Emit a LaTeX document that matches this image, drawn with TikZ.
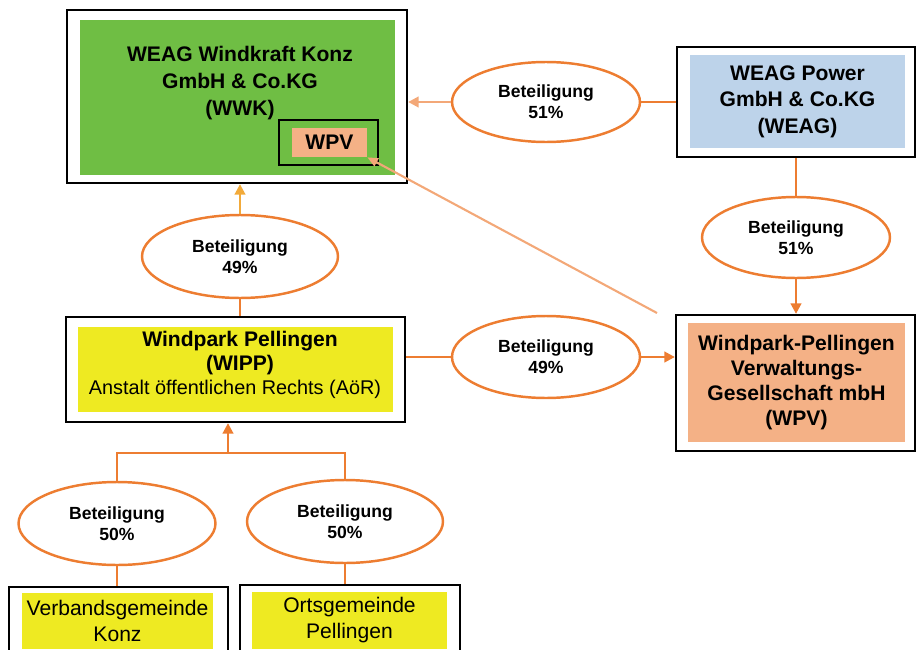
\documentclass[tikz,border=0pt]{standalone}
\usepackage{fontspec}
\setmainfont{Liberation Sans}
\usetikzlibrary{arrows.meta,positioning,calc,shapes.geometric}
\definecolor{borange}{HTML}{ED7D31}
\definecolor{lorange}{HTML}{F3A878}
\definecolor{gold}{HTML}{F2AA3A}
\definecolor{wgreen}{HTML}{6FBE44}
\definecolor{wblue}{HTML}{BDD3EA}
\definecolor{wsalmon}{HTML}{F4B186}
\definecolor{wyellow}{HTML}{EEEA22}

\begin{document}
\begin{tikzpicture}[x=0.02cm,y=-0.02cm,
 frm/.style={draw,line width=1.3pt,fill=white,inner sep=0pt},
 fl/.style={inner sep=0pt,align=center,font=\fontsize{12}{15}\selectfont\bfseries},
 nl/.style={inner sep=0pt,align=center,font=\fontsize{12}{14.5}\selectfont},
 bt/.style={draw=borange,line width=1.4pt,fill=white,ellipse,inner sep=0pt,align=center,
   minimum width=3.76cm,minimum height=1.62cm,font=\fontsize{10}{12}\selectfont\bfseries},
 ln/.style={draw=borange,line width=1.4pt},
 ar/.style={ln,-{Triangle[length=6pt,width=6pt]}}]
\clip (0,0) rectangle (916,649);
% companies
\node[frm,minimum width=6.8cm,minimum height=3.46cm] (wwk) at (237,96.5) {};
\node[fl,fill=wgreen,minimum width=6.3cm,minimum height=3.1cm] (wwkin) at (237.5,97.5) {};
\node[fl,font=\fontsize{12}{15.6}\selectfont\bfseries] (wwktxt) at (240,83) {WEAG Windkraft Konz\\GmbH \& Co.KG\\(WWK)};
\node[draw,line width=0.7pt,minimum width=1.98cm,minimum height=0.9cm,inner sep=0pt] (wpvbox) at (328.5,142.5) {};
\node[fl,fill=wsalmon,minimum width=1.5cm,minimum height=0.58cm] (wpvsmall) at (329.5,142.5) {WPV};
\node[frm,minimum width=4.76cm,minimum height=2.2cm] (weag) at (796,102) {};
\node[fl,fill=wblue,minimum width=4.3cm,minimum height=1.86cm] (weagin) at (797.5,101.5) {WEAG Power\\GmbH \& Co.KG\\(WEAG)};
\node[frm,minimum width=4.78cm,minimum height=2.72cm] (wpv) at (795.5,383) {};
\node[fl,fill=wsalmon,minimum width=4.34cm,minimum height=2.38cm,font=\fontsize{12}{14.4}\selectfont\bfseries] (wpvin) at (796.5,382.5) {Windpark-Pellingen\\Verwaltungs-\\Gesellschaft mbH\\(WPV)};
\node[frm,minimum width=6.78cm,minimum height=2.1cm] (wipp) at (235.5,369.5) {};
\node[fl,fill=wyellow,minimum width=6.3cm,minimum height=1.7cm] (wippin) at (235.5,369.5) {};
\node[fl,font=\fontsize{12}{14}\selectfont\bfseries] (wipptxt) at (240,353) {Windpark Pellingen\\(WIPP)};
\node[nl,font=\fontsize{11.3}{13}\selectfont] (aoer) at (235,389) {Anstalt öffentlichen Rechts (AöR)};
\node[frm,minimum width=4.38cm,minimum height=1.52cm] (vgk) at (118.5,625) {};
\node[nl,fill=wyellow,minimum width=3.82cm,minimum height=1.12cm] (vgkin) at (117.5,621) {Verbandsgemeinde\\Konz};
\node[frm,minimum width=4.4cm,minimum height=1.52cm] (og) at (350,623) {};
\node[nl,fill=wyellow,minimum width=3.9cm,minimum height=1.14cm] (ogin) at (349.5,620) {Ortsgemeinde\\Pellingen};
% shares
\node[bt,minimum height=1.6cm] (e1) at (546,102) {Beteiligung\\51\%};
\node[bt] (e2) at (796,237.5) {Beteiligung\\51\%};
\node[bt,minimum width=3.92cm,minimum height=1.66cm] (e3) at (240,256.5) {Beteiligung\\49\%};
\node[bt,minimum height=1.64cm] (e4) at (546,357) {Beteiligung\\49\%};
\node[bt,minimum width=3.94cm,minimum height=1.66cm] (e5) at (117,523.5) {Beteiligung\\50\%};
\node[bt,minimum width=3.92cm,minimum height=1.66cm] (e6) at (345,521.5) {Beteiligung\\50\%};
\coordinate (join) at (228,453);
\coordinate (dstart) at (657,313);
% links
\draw[ln] (weag.west) -- (e1.east);
\draw[ar,draw=lorange,-{Triangle[length=6pt,width=6pt,fill=lorange]}] (e1.west) -- (e1.west -| wwk.east);
\draw[ln] (weag.south) -- (e2.north);
\draw[ar] (e2.south) -- (e2.south |- wpv.north);
\draw[ln] (e3.south) -- (e3.south |- wipp.north);
\draw[ar,draw=gold,-{Triangle[length=6pt,width=6pt,fill=gold]}] (e3.north) -- (e3.north |- wwk.south);
\draw[ln] (e4.west -| wipp.east) -- (e4.west);
\draw[ar] (e4.east) -- (e4.east -| wpv.west);
\draw[ln] (e5.north) -- (e5.north |- join) -- (e6.north |- join) -- (e6.north);
\draw[ar] (join) -- (join |- wipp.south);
\draw[ln] (e5.south) -- (e5.south |- vgk.north);
\draw[ln] (e6.south) -- (e6.south |- og.north);
\draw[draw=lorange,line width=1.2pt,-{Triangle[length=6pt,width=5pt]}] (dstart) -- (wpvsmall.south east);
\end{tikzpicture}
\end{document}
